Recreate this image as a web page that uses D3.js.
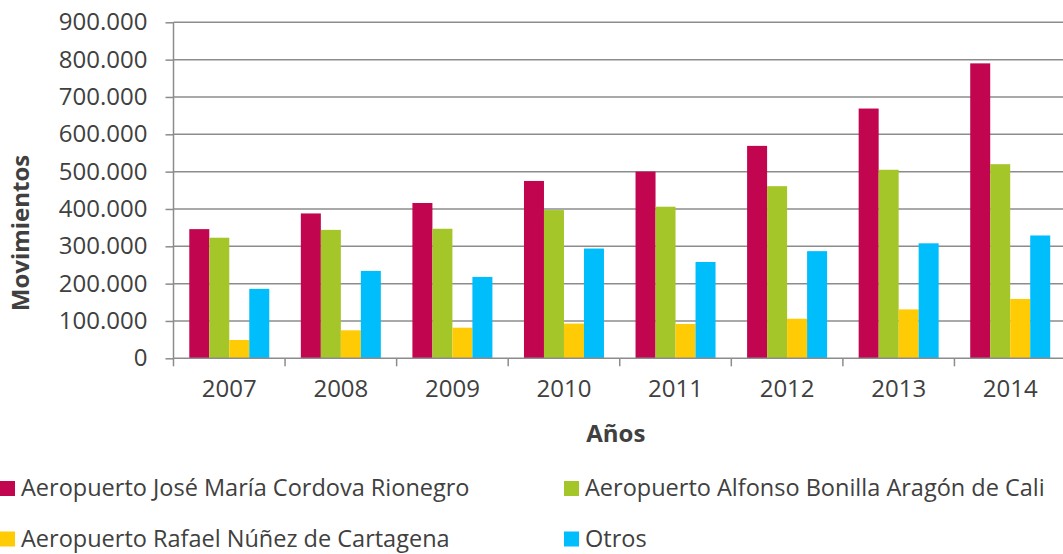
<!DOCTYPE html>
<html>
<head>
<meta charset="utf-8">
<script src="https://cdn.jsdelivr.net/npm/d3@7"></script>
<style>
  body { margin: 0; background: #fff; }
  svg { display: block; font-family: "Open Sans", sans-serif; }
</style>
</head>
<body>
<div id="chart"></div>
<script>
// data
var years = ['2007', '2008', '2009', '2010', '2011', '2012', '2013', '2014'];
var series = [
  'Aeropuerto José María Cordova Rionegro',
  'Aeropuerto Alfonso Bonilla Aragón de Cali',
  'Aeropuerto Rafael Núñez de Cartagena',
  'Otros'
];
var rionegro  = [346000, 388000, 416000, 475000, 500000, 569000, 669000, 790000];
var cali      = [323000, 344000, 347000, 397000, 406000, 461000, 505000, 520000];
var cartagena = [49000, 75000, 82000, 93000, 92000, 106000, 131000, 159000];
var otros     = [186000, 234000, 218000, 294000, 258000, 287000, 308000, 329000];
var yTicks = [0, 100000, 200000, 300000, 400000, 500000, 600000, 700000, 800000, 900000];

var colors = ['#c1054f', '#a4c629', '#ffcb05', '#00bdfc'];
var values = [rionegro, cali, cartagena, otros];

var w = 1063, h = 554;
var plotL = 173.5, plotR = 1066, plotT = 22.3, plotB = 358.3;

var es = d3.formatLocale({decimal: ',', thousands: '.', grouping: [3], currency: ['$', '']});
var fmt = es.format(',d');

var svg = d3.select('#chart').append('svg')
  .attr('width', w)
  .attr('height', h);

var x = d3.scaleBand()
  .domain(years)
  .range([plotL, plotR])
  .paddingInner(0.283)
  .paddingOuter(0.1415);

var xs = d3.scaleBand()
  .domain(series)
  .range([0, x.bandwidth()]);

var y = d3.scaleLinear()
  .domain([0, 900000])
  .range([plotB, plotT]);

// gridlines
svg.append('g')
  .selectAll('line')
  .data(yTicks.slice(1))
  .join('line')
    .attr('x1', plotL)
    .attr('x2', w)
    .attr('y1', function(d) { return y(d); })
    .attr('y2', function(d) { return y(d); })
    .attr('stroke', '#8c8c8c')
    .attr('stroke-width', 1.5);

// bars
var rows = years.map(function(yr, i) {
  return series.map(function(s, k) { return {year: yr, s: s, k: k, v: values[k][i]}; });
});

svg.append('g')
  .selectAll('g')
  .data(rows)
  .join('g')
    .attr('transform', function(d) { return 'translate(' + x(d[0].year) + ',0)'; })
  .selectAll('rect')
  .data(function(d) { return d; })
  .join('rect')
    .attr('x', function(d) { return xs(d.s); })
    .attr('y', function(d) { return y(d.v); })
    .attr('width', xs.bandwidth())
    .attr('height', function(d) { return y(0) - y(d.v); })
    .attr('fill', function(d) { return colors[d.k]; });

// y axis
var yAxis = svg.append('g')
  .attr('transform', 'translate(' + plotL + ',0)')
  .call(d3.axisLeft(y).tickValues(yTicks).tickFormat(fmt).tickSize(8).tickPadding(18));
yAxis.select('.domain').attr('stroke', '#8c8c8c').attr('stroke-width', 1.5).attr('d', 'M0,' + plotT + 'V' + plotB);
yAxis.selectAll('.tick line').attr('stroke', '#8c8c8c').attr('stroke-width', 1.5);
yAxis.selectAll('.tick text')
  .attr('fill', '#404040')
  .style('font-size', '24px')
  .style('font-family', '"Open Sans", sans-serif');

// x axis
var xAxis = svg.append('g')
  .attr('transform', 'translate(0,' + plotB + ')')
  .call(d3.axisBottom(x).tickSize(0).tickPadding(22));
xAxis.select('.domain').remove();
xAxis.append('line')
  .attr('x1', plotL).attr('x2', w)
  .attr('stroke', '#8c8c8c').attr('stroke-width', 1.5);
xAxis.selectAll('.sep')
  .data(d3.range(years.length + 1))
  .join('line')
    .attr('class', 'sep')
    .attr('x1', function(i) { return plotL + i * x.step(); })
    .attr('x2', function(i) { return plotL + i * x.step(); })
    .attr('y1', 0).attr('y2', 8)
    .attr('stroke', '#8c8c8c').attr('stroke-width', 1.5);
xAxis.selectAll('.tick text')
  .attr('fill', '#404040')
  .style('font-size', '24px')
  .style('font-family', '"Open Sans", sans-serif');

// axis titles
svg.append('text')
  .attr('x', (plotL + plotR) / 2 - 4)
  .attr('y', 441.7)
  .attr('text-anchor', 'middle')
  .attr('fill', '#404040')
  .style('font-size', '24px')
  .style('font-weight', 'bold')
  .text('Años');

svg.append('text')
  .attr('transform', 'translate(28.5,233) rotate(-90)')
  .attr('text-anchor', 'middle')
  .attr('fill', '#404040')
  .style('font-size', '24px')
  .style('font-weight', 'bold')
  .text('Movimientos');

// legend
var legPos = [[0, 481], [564, 481], [0, 531.5], [564, 531.5]];
var leg = svg.append('g')
  .selectAll('g')
  .data(series)
  .join('g')
    .attr('transform', function(d, i) { return 'translate(' + legPos[i][0] + ',' + legPos[i][1] + ')'; });
leg.append('rect')
  .attr('width', 15)
  .attr('height', 15)
  .attr('fill', function(d, i) { return colors[i]; });
leg.append('text')
  .attr('x', 21)
  .attr('y', 15)
  .attr('fill', '#404040')
  .style('font-size', '23.5px')
  .text(function(d) { return d; });
</script>
</body>
</html>
